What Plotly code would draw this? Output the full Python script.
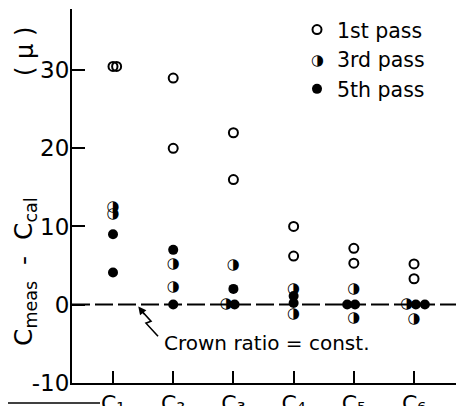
import plotly.graph_objects as go

# ---- data ----
categories = [1, 2, 3, 4, 5, 6]
x_labels = ["C₁", "C₂", "C₃", "C₄", "C₅", "C₆"]
y_ticks = [-10, 0, 10, 20, 30]

pass1_x = [1.0, 1.06, 2, 2, 3, 3, 4, 4, 5, 5, 6, 6]
pass1_y = [30.5, 30.5, 29.0, 20.0, 22.0, 16.0, 10.0, 6.2, 7.2, 5.3, 5.2, 3.3]

pass3_x = [1, 1, 2, 2, 3, 2.88, 4, 4, 5, 5, 5.88, 6]
pass3_y = [12.5, 11.5, 5.1, 2.2, 5.0, 0.0, 2.0, -1.3, 2.0, -1.8, 0.0, -1.9]

pass5_x = [1, 1, 2, 2, 3, 3.02, 4, 4, 4.89, 5.02, 6.03, 6.18]
pass5_y = [9.0, 4.1, 7.0, 0.0, 2.0, 0.0, 1.1, 0.2, 0.0, 0.0, 0.0, 0.0]

FONT = "DejaVu Sans"
HALF = "◑"

# page has an 8px body margin, so the figure is 8px smaller than the window
W, H = 456, 398
L, T, B = 64, 1, 23
PW, PH = W - L, H - T - B

fig = go.Figure()
fig.add_trace(go.Scatter(
    x=pass1_x, y=pass1_y, mode="markers", name="1st pass",
    marker=dict(symbol="circle-open", size=9, color="black", line=dict(width=2, color="black")),
))
# 3rd pass: legend entry (symbol drawn as glyph below) + half-filled glyph marks
fig.add_trace(go.Scatter(
    x=pass3_x, y=pass3_y, mode="markers", name="3rd pass", legendgroup="p3",
    marker=dict(symbol="circle", size=9, color="rgba(0,0,0,0)", line=dict(width=0)),
))
fig.add_trace(go.Scatter(
    x=pass3_x, y=pass3_y, mode="text", text=[HALF] * len(pass3_x), legendgroup="p3",
    showlegend=False, textposition="middle center",
    textfont=dict(family=FONT, size=15, color="black"),
))
fig.add_trace(go.Scatter(
    x=pass5_x, y=pass5_y, mode="markers", name="5th pass",
    marker=dict(symbol="circle", size=10, color="black", line=dict(width=0)),
))

# dashed reference line (crown ratio = const.)
fig.add_shape(type="line", xref="paper", yref="y", x0=0, x1=1, y0=0, y1=0,
              line=dict(color="black", width=2, dash="18px,5px"), layer="below")
# zig-zag leader
fig.add_shape(type="path", xref="x", yref="y",
              path="M 1.44 -0.5 L 1.631 -2.14 L 1.548 -2.39 L 1.748 -4.06",
              line=dict(color="black", width=1.6))
fig.add_annotation(x=1.42, y=-0.25, ax=7, ay=9, xref="x", yref="y", text="",
                   showarrow=True, arrowhead=2, arrowsize=1, arrowwidth=1.6, arrowcolor="black")
fig.add_annotation(x=1.81, y=-4.95, xref="x", yref="y", xanchor="left", yanchor="middle",
                   text="Crown ratio = const.", showarrow=False,
                   font=dict(family=FONT, size=20, color="black"))

# legend glyph for 3rd pass
fig.add_annotation(xref="paper", yref="paper", x=(317 - 72) / PW, y=(383 - 60) / PH,
                   text=HALF, showarrow=False, xanchor="center", yanchor="middle",
                   font=dict(family=FONT, size=15, color="black"))

# y-axis title pieces
fig.add_annotation(xref="paper", yref="paper", x=-47 / PW, y=(383 - 272) / PH, textangle=-90,
                   xanchor="center", yanchor="middle",
                   text="C<sub>meas</sub>\u00a0 - \u00a0C<sub>cal</sub>", showarrow=False,
                   font=dict(family=FONT, size=25, color="black"))
fig.add_annotation(xref="paper", yref="paper", x=-47 / PW, y=(383 - 52) / PH, textangle=-90,
                   xanchor="center", yanchor="middle",
                   text="( μ )", showarrow=False,
                   font=dict(family=FONT, size=24, color="black"))

# scan rule at bottom-left
fig.add_shape(type="line", xref="paper", yref="paper", x0=-L / PW, x1=28 / PW,
              y0=-20 / PH, y1=-20 / PH, line=dict(color="black", width=1.5))

fig.update_layout(
    width=W, height=H,
    margin=dict(l=L, r=0, t=T, b=B, pad=0, autoexpand=False),
    paper_bgcolor="white", plot_bgcolor="white",
    font=dict(family=FONT, size=20, color="black"),
    showlegend=True,
    legend=dict(x=0.574, y=0.998, xanchor="left", yanchor="top",
                bgcolor="rgba(0,0,0,0)", font=dict(family=FONT, size=20.5, color="black"),
                tracegroupgap=0, itemsizing="trace"),
)
fig.update_xaxes(
    range=[0.319, 6.83], tickmode="array", tickvals=categories, ticktext=x_labels,
    showline=True, linecolor="black", linewidth=2, showgrid=False, zeroline=False,
    ticks="inside", ticklen=12, tickwidth=2, tickcolor="black", automargin=False,
    tickfont=dict(family=FONT, size=22, color="black"), ticklabelstandoff=0,
)
fig.update_yaxes(
    range=[-10.05, 37.85], tickmode="array", tickvals=y_ticks, ticktext=[str(v) for v in y_ticks],
    showline=True, linecolor="black", linewidth=2, showgrid=False, zeroline=False,
    ticks="inside", ticklen=13, tickwidth=2, tickcolor="black", automargin=False,
    tickfont=dict(family=FONT, size=23, color="black"), ticklabelstandoff=-4,
)

fig.write_html("out.html")
